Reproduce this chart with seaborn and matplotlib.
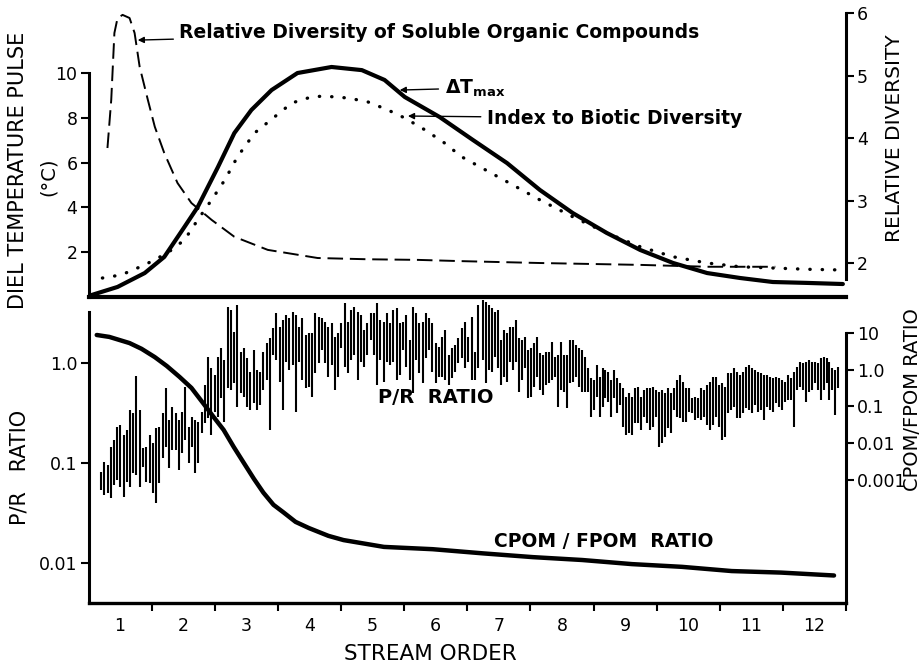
import numpy as np
import matplotlib
matplotlib.use('Agg')
import matplotlib.pyplot as plt
from matplotlib.ticker import NullLocator
import seaborn as sns

sns.set_style('ticks')
plt.rcParams['font.family'] = ['DejaVu Sans']
plt.rcParams['mathtext.default'] = 'regular'
for key in ('text.color', 'axes.labelcolor', 'xtick.color', 'ytick.color', 'axes.edgecolor'):
    plt.rcParams[key] = 'black'

# ---- top panel: diel temperature pulse (left axis) and relative diversity (right axis)
order_dt = [0.55, 0.96, 1.39, 1.70, 2.02, 2.23, 2.55, 2.81, 3.08, 3.40, 3.81, 4.35, 4.83, 5.19,
            5.51, 6.06, 6.59, 7.13, 7.65, 8.17, 8.71, 9.24, 9.76, 10.30, 10.82, 11.34, 11.88, 12.45]
dt_max = [0.09, 0.45, 1.07, 1.79, 3.13, 4.02, 5.80, 7.32, 8.35, 9.24, 10.0, 10.27, 10.13, 9.69,
          8.93, 8.04, 7.01, 5.98, 4.78, 3.75, 2.86, 2.10, 1.52, 1.07, 0.85, 0.67, 0.63, 0.58]

order_soluble = [0.80, 0.86, 0.91, 0.96, 1.04, 1.15, 1.23, 1.31, 1.44, 1.55, 1.70, 1.91, 2.13,
                 2.45, 2.81, 3.34, 4.13, 4.92, 5.72, 6.41, 7.65, 9.24, 10.30, 11.38]
soluble_div = [3.84, 4.61, 5.68, 5.92, 5.97, 5.92, 5.68, 5.14, 4.61, 4.18, 3.76, 3.28, 2.96,
               2.69, 2.42, 2.21, 2.08, 2.06, 2.05, 2.03, 2.00, 1.97, 1.94, 1.94]

order_biotic = [0.72, 1.02, 1.39, 1.75, 2.02, 2.23, 2.45, 2.66, 2.86, 3.13, 3.45, 3.72, 4.04, 4.24,
                4.61, 4.92, 5.24, 5.51, 5.83, 6.14, 6.41, 7.13, 7.65, 8.17, 8.71, 9.24, 9.76,
                10.30, 10.82, 11.34, 11.88, 12.36]
biotic_div = [1.76, 1.81, 1.97, 2.16, 2.37, 2.69, 3.01, 3.33, 3.70, 4.08, 4.34, 4.56, 4.66, 4.67,
              4.64, 4.58, 4.45, 4.32, 4.13, 3.92, 3.70, 3.30, 3.01, 2.74, 2.48, 2.26, 2.10,
              2.00, 1.94, 1.92, 1.90, 1.89]

# ---- bottom panel: CPOM/FPOM ratio (right axis)
order_cpom = [0.63, 0.83, 1.15, 1.34, 1.55, 1.74, 1.94, 2.13, 2.32, 2.48, 2.64, 2.80, 2.96, 3.12,
              3.27, 3.43, 3.59, 3.78, 3.99, 4.30, 4.54, 5.18, 5.95, 6.75, 7.54, 8.32, 9.11, 9.90,
              10.69, 11.47, 12.31]
cpom_fpom = [8.8, 7.8, 5.3, 3.7, 2.2, 1.26, 0.64, 0.32, 0.12, 0.052, 0.023, 7.9e-3, 2.9e-3,
             1.07e-3, 4.5e-4, 2.1e-4, 1.3e-4, 7.2e-5, 4.9e-5, 3.0e-5, 2.3e-5, 1.5e-5, 1.3e-5,
             1.0e-5, 7.9e-6, 6.6e-6, 5.1e-6, 4.3e-6, 3.3e-6, 3.0e-6, 2.5e-6]

# ---- P/R ratio range bars (log10 of P/R), read in three reaches along the stream
reach_first = [0.70, 1.47, 6.75]
reach_last = [1.41, 6.67, 12.38]

pr_high_1 = [-1.09, -0.99, -1.02, -0.84, -0.77, -0.64, -0.62, -0.72, -0.67, -0.47, -0.50, -0.13,
             -0.47, -0.85, -0.84]
pr_low_1 = [-1.27, -1.32, -1.30, -1.35, -1.22, -1.17, -1.24, -1.34, -1.19, -1.24, -1.10, -1.12,
            -1.24, -1.04, -1.19]

pr_high_2 = [-0.72, -0.80, -0.65, -0.64, -0.50, -0.25, -0.57, -0.44, -0.50, -0.57,
             -0.49, -0.24, -0.64, -0.54, -0.57, -0.59, -0.49, -0.22, 0.06, -0.05,
             -0.12, 0.06, 0.15, 0.03, 0.56, 0.53, 0.31, 0.58, 0.11, 0.15,
             0.05, -0.09, 0.13, -0.07, -0.09, 0.11, 0.20, 0.25, 0.35, 0.50,
             0.36, 0.43, 0.48, 0.45, 0.51, 0.48, 0.36, 0.45, 0.28, 0.30,
             0.30, 0.50, 0.46, 0.45, 0.41, 0.36, 0.40, 0.26, 0.30, 0.40,
             0.60, 0.41, 0.53, 0.56, 0.51, 0.48, 0.33, 0.40, 0.50, 0.50,
             0.60, 0.43, 0.41, 0.50, 0.40, 0.53, 0.55, 0.40, 0.41, 0.48,
             0.23, 0.56, 0.50, 0.40, 0.41, 0.50, 0.45, 0.40, 0.20, 0.16,
             0.26, 0.33, 0.08, 0.15, 0.18, 0.25, 0.35, 0.41, 0.26, 0.46,
             0.11, 0.58]
pr_low_2 = [-1.20, -1.30, -1.40, -1.20, -0.95, -0.84, -1.05, -0.87, -0.87, -1.07,
            -0.90, -0.77, -1.00, -0.84, -1.10, -1.00, -0.70, -0.60, -0.55, -0.72,
            -0.49, -0.54, -0.35, -0.59, -0.25, -0.27, -0.20, -0.44, -0.30, -0.34,
            -0.44, -0.47, -0.40, -0.47, -0.42, -0.27, -0.17, -0.67, 0.08, 0.03,
            -0.19, -0.47, 0.01, -0.07, -0.02, -0.49, 0.01, -0.17, -0.25, -0.24,
            -0.34, -0.10, 0.00, 0.13, 0.00, -0.14, -0.02, -0.27, -0.14, 0.15,
            -0.04, -0.10, 0.03, 0.08, -0.17, 0.01, -0.04, 0.08, 0.23, 0.08,
            -0.22, 0.03, -0.19, 0.01, -0.02, 0.01, -0.17, -0.12, 0.13, -0.04,
            -0.17, -0.30, 0.03, -0.10, -0.20, 0.05, 0.13, -0.09, -0.20, -0.14,
            -0.14, -0.17, -0.22, -0.15, -0.09, 0.00, 0.05, -0.05, 0.01, -0.17,
            -0.17, -0.05]

pr_high_3 = [0.63, 0.61, 0.58, 0.55, 0.51, 0.53, 0.23, 0.33, 0.30, 0.36,
             0.36, 0.43, 0.25, 0.23, 0.26, 0.13, 0.15, 0.20, 0.26, 0.10,
             0.08, 0.11, 0.11, 0.21, 0.06, 0.08, 0.21, 0.08, 0.08, 0.23,
             0.23, 0.18, 0.15, 0.13, 0.06, -0.05, -0.15, -0.17, -0.02, -0.14,
             -0.05, -0.07, -0.09, -0.17, -0.07, -0.15, -0.20, -0.25, -0.34, -0.30,
             -0.34, -0.25, -0.24, -0.34, -0.27, -0.25, -0.25, -0.24, -0.27, -0.29,
             -0.27, -0.30, -0.25, -0.30, -0.25, -0.17, -0.12, -0.19, -0.25, -0.25,
             -0.35, -0.34, -0.35, -0.25, -0.27, -0.22, -0.19, -0.14, -0.14, -0.22,
             -0.20, -0.24, -0.10, -0.10, -0.05, -0.09, -0.12, -0.09, -0.04, -0.02,
             -0.05, -0.07, -0.09, -0.10, -0.12, -0.12, -0.14, -0.15, -0.14, -0.15,
             -0.17, -0.19, -0.12, -0.15, -0.09, -0.04, 0.01, 0.00, 0.01, 0.03,
             0.01, 0.01, 0.00, 0.05, 0.06, 0.05, 0.01, -0.05, -0.07, -0.04]
pr_low_3 = [0.03, -0.20, -0.07, -0.09, 0.06, -0.05, -0.22, -0.14, -0.19, 0.01,
            -0.07, 0.01, -0.29, -0.17, -0.05, -0.35, -0.34, -0.24, -0.14, -0.27,
            -0.32, -0.22, -0.20, -0.17, -0.14, -0.44, -0.27, -0.29, -0.45, -0.20,
            -0.19, -0.14, -0.24, -0.29, -0.29, -0.29, -0.54, -0.47, -0.34, -0.54,
            -0.44, -0.35, -0.39, -0.54, -0.35, -0.50, -0.42, -0.64, -0.72, -0.70,
            -0.72, -0.60, -0.60, -0.67, -0.54, -0.60, -0.67, -0.64, -0.54, -0.84,
            -0.80, -0.74, -0.65, -0.70, -0.47, -0.54, -0.55, -0.59, -0.59, -0.49,
            -0.50, -0.57, -0.55, -0.57, -0.54, -0.62, -0.67, -0.62, -0.54, -0.64,
            -0.77, -0.74, -0.50, -0.47, -0.44, -0.55, -0.55, -0.50, -0.45, -0.47,
            -0.50, -0.42, -0.49, -0.47, -0.57, -0.44, -0.47, -0.49, -0.40, -0.44,
            -0.47, -0.39, -0.37, -0.37, -0.64, -0.27, -0.24, -0.27, -0.39, -0.29,
            -0.27, -0.20, -0.27, -0.37, -0.27, -0.20, -0.37, -0.27, -0.52, -0.25]

pr_high = [pr_high_1, pr_high_2, pr_high_3]
pr_low = [pr_low_1, pr_low_2, pr_low_3]

# positions of the bars: evenly spread inside each reach
pr_x = np.concatenate([np.linspace(a, b, len(h)) for a, b, h in zip(reach_first, reach_last, pr_high)])
pr_top = 10 ** np.concatenate(pr_high)
pr_bot = 10 ** np.concatenate(pr_low)

TICK_FS = 12.5

fig = plt.figure(figsize=(9.23, 6.67), dpi=100)
ax = fig.add_axes([0.0959, 0.5547, 0.8207, 0.4258])
ax2 = ax.twinx()
bx = fig.add_axes([0.0959, 0.0960, 0.8207, 0.4588])
bx2 = bx.twinx()
for a in (ax, ax2, bx, bx2):
    a.set_facecolor('none')

# top panel curves
sns.lineplot(x=order_dt, y=dt_max, ax=ax, color='k', lw=3.0)
sns.lineplot(x=order_soluble, y=soluble_div, ax=ax2, color='k', lw=1.4,
             linestyle=(0, (8, 3.5)))
sns.lineplot(x=order_biotic, y=biotic_div, ax=ax2, color='k', lw=2.4,
             linestyle=(0, (0.1, 3.6)), dash_capstyle='round')

ax.set_xlim(0.5, 12.5)
ax.set_ylim(0, 12.68)
ax2.set_ylim(1.456, 6)
ax.set_yticks([2, 4, 6, 8, 10])
ax2.set_yticks([2, 3, 4, 5, 6])
ax.tick_params(axis='x', bottom=False, labelbottom=False)
ax.tick_params(axis='y', direction='out', length=6, width=1.5, labelsize=TICK_FS, pad=2)
ax2.tick_params(axis='y', direction='out', length=6, width=1.5, labelsize=TICK_FS, pad=2)
ax.spines['top'].set_visible(False)
ax.spines['right'].set_visible(False)
ax.spines['left'].set_bounds(0, 10)
ax.spines['left'].set_linewidth(2.2)
ax.spines['bottom'].set_linewidth(3.0)
for s in ('top', 'left', 'bottom'):
    ax2.spines[s].set_visible(False)
ax2.spines['right'].set_bounds(1.75, 6)
ax2.spines['right'].set_linewidth(2.2)

arrow = dict(arrowstyle='-|>', color='k', lw=1.0, shrinkA=2, shrinkB=0, mutation_scale=9)
ax.annotate('Relative Diversity of Soluble Organic Compounds', xy=(1.28, 11.47),
            xytext=(1.94, 11.83), ha='left', va='center', fontsize=13.5,
            fontweight='bold', arrowprops=arrow)
ax.annotate(r'$\Delta$T$_{max}$', xy=(5.43, 9.24), xytext=(6.14, 9.33), ha='left',
            va='center', fontsize=13.5, fontweight='bold', arrowprops=arrow)
ax.annotate('Index to Biotic Diversity', xy=(5.56, 8.08), xytext=(6.81, 7.99), ha='left',
            va='center', fontsize=13.5, fontweight='bold', arrowprops=arrow)

# bottom panel
bx.set_yscale('log')
bx2.set_yscale('log')
bx.set_xlim(0.5, 12.5)
bx.set_ylim(10 ** -2.40, 10 ** 0.66)
bx2.set_ylim(10 ** -6.35, 10 ** 1.98)

bx.vlines(pr_x, pr_bot, pr_top, colors='k', lw=1.5)
sns.lineplot(x=order_cpom, y=cpom_fpom, ax=bx2, color='k', lw=3.2)

bx.set_yticks([0.01, 0.1, 1.0])
bx.set_yticklabels(['0.01', '0.1', '1.0'])
bx.yaxis.set_minor_locator(NullLocator())
bx2.set_yticks([10, 1, 0.1, 0.01, 0.001])
bx2.set_yticklabels(['10', '1.0', '0.1', '0.01', '0.001'])
bx2.yaxis.set_minor_locator(NullLocator())
bx.set_xticks(range(1, 13))
bx.set_xticks(np.arange(1.5, 13, 1), minor=True)
bx.tick_params(axis='x', which='major', length=0, pad=10, labelsize=TICK_FS)
bx.tick_params(axis='x', which='minor', direction='out', length=6, width=1.5)
bx.tick_params(axis='y', direction='out', length=6, width=1.5, labelsize=TICK_FS, pad=2)
bx2.tick_params(axis='y', direction='out', length=6, width=1.5, labelsize=TICK_FS, pad=2)
bx.spines['top'].set_visible(False)
bx.spines['right'].set_visible(False)
bx.spines['left'].set_bounds(10 ** -2.40, 3.2)
bx.spines['left'].set_linewidth(2.2)
bx.spines['bottom'].set_linewidth(2.4)
for s in ('top', 'left', 'bottom'):
    bx2.spines[s].set_visible(False)
bx2.spines['right'].set_bounds(10 ** -6.35, 10)
bx2.spines['right'].set_linewidth(2.2)

bx.text(6.0, 10 ** -0.35, 'P/R  RATIO', ha='center', va='center', fontsize=14,
        fontweight='bold')
bx.text(8.66, 10 ** -1.79, 'CPOM / FPOM  RATIO', ha='center', va='center', fontsize=13.5,
        fontweight='bold')

# axis titles
W, H = 923, 667
fig.text(18 / W, 1 - 170 / H, 'DIEL TEMPERATURE PULSE', rotation=90, ha='center', va='center',
         fontsize=15)
fig.text(48 / W, 1 - 177 / H, '(°C)', rotation=90, ha='center', va='center', fontsize=14)
fig.text(895 / W, 1 - 138 / H, 'RELATIVE DIVERSITY', rotation=90, ha='center', va='center',
         fontsize=14.5)
fig.text(20 / W, 1 - 467 / H, 'P/R   RATIO', rotation=90, ha='center', va='center', fontsize=15)
fig.text(912 / W, 1 - 400 / H, 'CPOM/FPOM RATIO', rotation=90, ha='center', va='center',
         fontsize=14)
fig.text(430 / W, 1 - 654 / H, 'STREAM ORDER', ha='center', va='center', fontsize=15.5)

fig.savefig('out.png', dpi=100)
